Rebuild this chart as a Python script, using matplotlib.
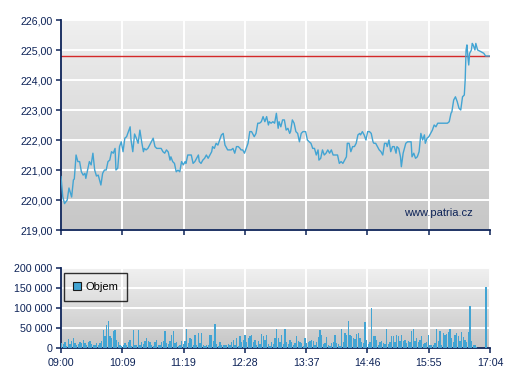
import matplotlib
matplotlib.use("Agg")
import matplotlib.pyplot as plt
from matplotlib.colors import LinearSegmentedColormap
from matplotlib.patches import Patch
from matplotlib.ticker import FuncFormatter
import numpy as np


# -----------------------
# Data
# -----------------------
time_labels = ["09:00", "10:09", "11:19", "12:28", "13:37", "14:46", "15:55", "17:04"]
session_minutes = 484  # 09:00 -> 17:04

# intraday price, minutes after 09:00
price_min = [
    0, 2, 4, 7, 9, 12, 14, 15, 17, 19, 21, 23, 25, 27, 28, 30, 32, 34, 36, 38,
    40, 42, 44, 45, 47, 49, 51, 53, 55, 57, 59, 61, 62, 64, 66, 68, 70, 72, 74, 76,
    78, 79, 81, 83, 85, 87, 89, 91, 93, 94, 96, 98, 100, 104, 106, 108, 109, 113, 115, 117,
    119, 121, 123, 124, 126, 128, 130, 132, 134, 136, 138, 140, 141, 143, 147, 149, 151, 153, 155, 156,
    158, 160, 162, 164, 166, 168, 170, 171, 173, 175, 177, 179, 181, 183, 185, 186, 188, 192, 194, 196,
    198, 200, 202, 203, 205, 207, 209, 211, 213, 215, 217, 218, 220, 222, 224, 226, 228, 230, 232, 234,
    235, 237, 239, 241, 243, 245, 246, 248, 250, 252, 254, 256, 258, 259, 261, 263, 265, 267, 269, 271,
    273, 276, 278, 280, 282, 284, 286, 288, 290, 291, 293, 295, 297, 299, 301, 303, 305, 307, 310, 312,
    314, 316, 318, 320, 322, 323, 325, 327, 329, 331, 333, 335, 337, 338, 340, 342, 344, 346, 348, 350,
    352, 353, 355, 357, 359, 361, 363, 365, 367, 368, 370, 372, 374, 376, 378, 379, 381, 383, 384, 386,
    389, 391, 393, 395, 396, 398, 400, 402, 404, 406, 408, 410, 411, 413, 415, 417, 419, 421, 423, 425,
    428, 432, 436, 438, 440, 441, 443, 445, 447, 449, 451, 453, 455, 456, 457, 458, 459, 460, 461, 463,
    464, 465, 467, 468, 470, 474, 477, 479, 484,
]
price = [
    220.78, 220.11, 219.88, 220.00, 220.40, 220.10, 220.67, 220.70, 221.50, 221.28,
    221.28, 220.94, 220.83, 220.89, 220.72, 221.00, 221.28, 221.17, 221.56, 221.00,
    220.80, 220.83, 220.61, 220.50, 220.89, 221.00, 221.00, 221.28, 221.33, 221.61,
    221.56, 221.72, 221.00, 221.06, 221.78, 221.94, 221.61, 222.06, 222.11, 222.28,
    222.44, 222.00, 221.61, 222.20, 222.06, 221.89, 222.33, 221.94, 221.61, 221.72,
    221.67, 221.72, 221.83, 222.06, 221.78, 221.72, 221.72, 221.72, 221.61, 221.56,
    221.67, 221.60, 221.33, 221.44, 221.28, 221.22, 220.94, 221.00, 220.94, 221.28,
    221.17, 221.28, 221.22, 221.50, 221.50, 221.22, 221.28, 221.39, 221.50, 221.28,
    221.22, 221.33, 221.39, 221.50, 221.39, 221.50, 221.61, 221.78, 221.72, 221.89,
    221.83, 222.00, 222.17, 222.22, 221.83, 221.78, 221.67, 221.67, 221.72, 221.56,
    221.78, 221.78, 221.72, 221.67, 221.67, 221.56, 221.72, 221.89, 222.28, 222.28,
    222.17, 222.11, 222.22, 222.56, 222.56, 222.61, 222.78, 222.61, 222.78, 222.50,
    222.61, 222.56, 222.61, 222.56, 222.89, 222.39, 222.61, 222.44, 222.67, 222.67,
    222.33, 222.39, 222.22, 222.28, 222.67, 222.56, 222.28, 222.22, 221.94, 222.22,
    222.28, 222.28, 222.00, 221.94, 221.89, 221.72, 221.72, 221.50, 221.67, 221.33,
    221.39, 221.67, 221.50, 221.56, 221.67, 221.56, 221.67, 221.50, 221.50, 221.50,
    221.22, 221.28, 221.22, 221.33, 221.44, 221.89, 221.89, 221.61, 221.78, 221.78,
    221.89, 222.17, 222.22, 222.17, 222.28, 222.17, 222.00, 222.28, 222.28, 222.22,
    221.94, 221.89, 221.89, 221.78, 221.67, 221.61, 221.50, 221.89, 221.89, 221.78,
    222.00, 221.61, 221.78, 221.78, 221.56, 221.78, 221.72, 221.44, 221.11, 221.56,
    221.89, 221.94, 221.94, 221.94, 221.44, 221.56, 221.39, 221.44, 221.61, 222.22,
    222.00, 222.17, 221.89, 222.06, 222.11, 222.22, 222.33, 222.50, 222.44, 222.56,
    222.56, 222.56, 222.56, 222.61, 222.89, 222.94, 223.33, 223.44, 223.28, 223.06,
    223.00, 223.44, 223.50, 224.00, 225.00, 225.17, 224.78, 224.50, 224.89, 225.00,
    225.22, 225.17, 225.00, 225.22, 225.00, 224.94, 224.89, 224.80, 224.80,
]
prev_close = 224.80

# traded volume, one bar per bin starting 09:00:45
vol_first_min = 0.75
vol_bin_min = 1.88
volume = [
    12500, 10000, 15000, 4000, 23000, 10000, 17000, 25000, 12500, 8000,
    10000, 15000, 12000, 21000, 12500, 7000, 15000, 18000, 10000, 7000,
    8000, 12500, 7000, 12000, 18000, 46000, 29000, 57000, 68000, 29000,
    25000, 42000, 46000, 21000, 15000, 8000, 4000, 7000, 12500, 8000,
    15000, 21000, 4000, 46000, 8000, 7000, 46000, 8000, 15000, 10000,
    17000, 25000, 18000, 15000, 8000, 4000, 15000, 21000, 8000, 7000,
    15000, 18000, 42000, 12500, 10000, 18000, 33000, 43000, 12500, 15000,
    4000, 7000, 18000, 10000, 18000, 48000, 12500, 25000, 23000, 8000,
    33000, 7000, 37000, 12500, 37000, 8000, 4000, 7000, 8000, 33000,
    33000, 17000, 60000, 10000, 4000, 15000, 7000, 8000, 7000, 8000,
    10000, 7000, 15000, 21000, 8000, 25000, 4000, 29000, 15000, 21000,
    33000, 15000, 25000,
    29000, 33000, 15000, 21000, 7000, 18000, 10000, 35000, 29000, 21000,
    33000, 10000, 4000, 15000, 10000, 25000, 48000, 25000, 15000, 32000,
    10000, 48000, 15000, 10000, 21000, 15000, 8000, 12500, 29000, 17000,
    15000, 12500, 4000, 25000, 12500, 15000, 18000, 21000, 18000, 8000,
    15000, 27000, 46000, 33000, 10000, 12500, 27000, 8000, 4000, 12500,
    15000, 32000, 12500, 10000, 4000, 48000, 15000, 37000, 33000, 68000,
    33000, 29000, 25000, 23000, 35000, 37000, 25000, 15000, 12500, 65000,
    21000, 10000, 15000, 100000, 29000, 29000, 21000, 8000, 15000, 18000,
    12500, 10000, 48000, 10000, 15000, 29000, 29000, 15000, 33000, 29000,
    18000, 32000, 18000, 21000, 12500, 18000, 15000, 42000, 48000, 17000,
    25000, 15000, 21000, 29000, 10000, 12500, 15000, 33000, 8000, 7000,
    8000, 12500, 48000, 18000, 42000, 8000, 37000, 33000, 35000, 40000,
    48000, 25000, 15000, 33000, 37000, 29000, 18000, 40000, 27000, 21000,
    15000, 40000, 104000, 18000, 8000, 7000, 2000,
]
auction_min = 479.5
auction_volume = 152000


# -----------------------
# Style
# -----------------------
NAVY = "#0d2358"
BLUE = "#42a4d3"
RED = "#d42a2a"

plt.rcParams["font.family"] = ["Liberation Sans", "DejaVu Sans"]
plt.rcParams["font.size"] = 7.7

bg_cmap = LinearSegmentedColormap.from_list("bg", ["#c6c6c6", "#f0f0f0"])
gradient = np.linspace(0, 1, 256).reshape(-1, 1)


def style_axes(ax):
    ax.imshow(gradient, cmap=bg_cmap, aspect="auto", origin="lower",
              extent=[0, 1, 0, 1], transform=ax.transAxes, zorder=0)
    ax.set_axisbelow(True)
    ax.grid(True, color="white", linewidth=1.4)
    for side in ("top", "right"):
        ax.spines[side].set_visible(False)
    for side in ("left", "bottom"):
        ax.spines[side].set_color(NAVY)
        ax.spines[side].set_linewidth(1.3)
    ax.tick_params(colors=NAVY, labelcolor=NAVY, length=3.5, width=1.1, pad=2.5)
    ax.set_xticks(np.linspace(0, session_minutes, len(time_labels)))
    ax.set_xlim(0, session_minutes)


fig = plt.figure(figsize=(5.07, 3.80), dpi=100)
ax_p = fig.add_axes([61 / 507, 1 - 230 / 380, 429 / 507, 210 / 380])
ax_v = fig.add_axes([61 / 507, 1 - 348 / 380, 429 / 507, 80 / 380])

# -----------------------
# Price panel
# -----------------------
style_axes(ax_p)
ax_p.plot(price_min, price, color=BLUE, linewidth=1.0, zorder=3)
ax_p.axhline(prev_close, color=RED, linewidth=1.0, zorder=2)
ax_p.set_ylim(219, 226)
ax_p.set_yticks(np.arange(219, 227, 1))
ax_p.yaxis.set_major_formatter(FuncFormatter(lambda v, _: f"{v:.2f}".replace(".", ",")))
ax_p.set_xticklabels([])
ax_p.text(0.879, 0.081, "www.patria.cz", transform=ax_p.transAxes,
          ha="center", va="center", color=NAVY, fontsize=8, zorder=4)

# -----------------------
# Volume panel
# -----------------------
style_axes(ax_v)
vol_t = vol_first_min + vol_bin_min * np.arange(len(volume))
ax_v.bar(vol_t, volume, width=1.5, color=BLUE, linewidth=0,
         antialiased=False, zorder=3)
ax_v.bar([auction_min], [auction_volume], width=1.5, color=BLUE, linewidth=0,
         antialiased=False, zorder=3)
ax_v.set_ylim(0, 200000)
ax_v.set_yticks(np.arange(0, 200001, 50000))
ax_v.yaxis.set_major_formatter(FuncFormatter(lambda v, _: f"{int(v):,}".replace(",", " ")))
ax_v.set_xticklabels(time_labels)
ax_v.tick_params(axis="x", pad=3.5)

handle = Patch(facecolor=BLUE, edgecolor="#1a1a1a", linewidth=0.8, label="Objem")
leg = ax_v.legend(handles=[handle], loc="upper left", bbox_to_anchor=(0.008, 0.94),
                  frameon=True, fancybox=False, edgecolor="black", facecolor="none",
                  handlelength=0.7, handleheight=0.7, handletextpad=0.4,
                  borderpad=0.8, borderaxespad=0, fontsize=8)
leg.get_frame().set_linewidth(1.0)
leg.set_zorder(5)

fig.savefig("out.png", dpi=100)
plt.close(fig)
